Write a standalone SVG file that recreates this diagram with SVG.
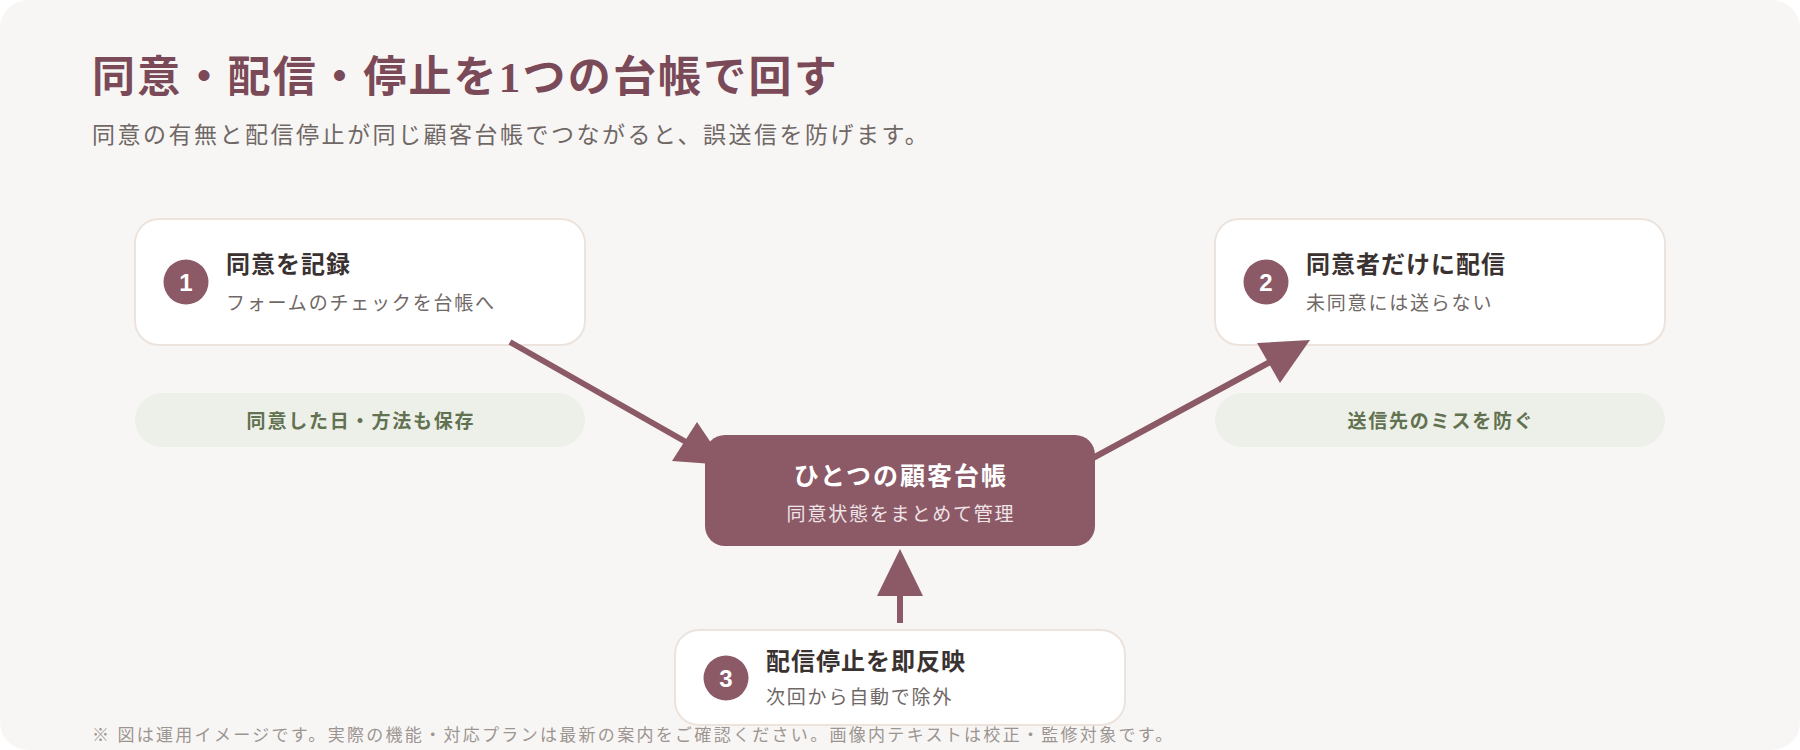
<svg xmlns="http://www.w3.org/2000/svg" width="1800" height="750" viewBox="0 0 1800 750">
  <defs>
    <style>
      .sans { font-family: "Noto Sans CJK JP", "Noto Sans", sans-serif; }
      .title { font-family: "Liberation Serif", "Noto Sans CJK JP", serif; font-size: 43px; font-weight: 700; fill: #7b4a58; letter-spacing: 2.2px; }
      .lead { font-size: 23px; fill: #6f6866; letter-spacing: 2.5px; }
      .card { fill: #ffffff; stroke: #ece3dd; stroke-width: 2; }
      .badge { fill: #8c5a67; }
      .badge-num { font-family: "Liberation Sans", Arial, sans-serif; font-size: 24px; font-weight: 700; fill: #ffffff; text-anchor: middle; }
      .ntitle { font-size: 24px; font-weight: 700; fill: #3a3230; letter-spacing: 1px; }
      .nsub { font-size: 19px; fill: #6f6866; letter-spacing: 1.8px; }
      .pill { fill: #edf0e9; }
      .ptext { font-size: 19px; font-weight: 700; fill: #62714f; letter-spacing: 1.8px; text-anchor: middle; }
      .hub { fill: #8c5a67; }
      .htitle { font-size: 25px; font-weight: 700; fill: #ffffff; letter-spacing: 2px; text-anchor: middle; }
      .hsub { font-size: 19px; fill: #efe4e7; letter-spacing: 1.8px; text-anchor: middle; }
      .foot { font-size: 17px; fill: #9c9592; letter-spacing: 2.3px; }
      .conn { stroke: #8c5a67; stroke-width: 6; fill: none; }
      .head { fill: #8c5a67; }
    </style>
  </defs>

  <rect x="0" y="0" width="1800" height="750" fill="#ffffff"/>
  <rect x="0" y="0" width="1800" height="750" rx="28" ry="28" fill="#f8f6f4"/>

  <g id="header">
    <text class="title" x="92" y="92">同意・配信・停止を1つの台帳で回す</text>
    <text class="sans lead" x="92" y="143">同意の有無と配信停止が同じ顧客台帳でつながると、誤送信を防げます。</text>
  </g>

  <g id="node-1">
    <rect class="card" x="135" y="219" width="450" height="126" rx="24" ry="24"/>
    <circle class="badge" cx="186" cy="282" r="22.5"/>
    <text class="badge-num" x="186" y="291">1</text>
    <text class="sans ntitle" x="226" y="273">同意を記録</text>
    <text class="sans nsub" x="226" y="310">フォームのチェックを台帳へ</text>
  </g>

  <g id="note-1">
    <rect class="pill" x="135" y="393" width="450" height="54" rx="27" ry="27"/>
    <text class="sans ptext" x="361" y="428">同意した日・方法も保存</text>
  </g>

  <g id="node-2">
    <rect class="card" x="1215" y="219" width="450" height="126" rx="24" ry="24"/>
    <circle class="badge" cx="1266" cy="282" r="22.5"/>
    <text class="badge-num" x="1266" y="291">2</text>
    <text class="sans ntitle" x="1306" y="273">同意者だけに配信</text>
    <text class="sans nsub" x="1306" y="310">未同意には送らない</text>
  </g>

  <g id="note-2">
    <rect class="pill" x="1215" y="393" width="450" height="54" rx="27" ry="27"/>
    <text class="sans ptext" x="1441" y="428">送信先のミスを防ぐ</text>
  </g>

  <g id="node-3">
    <rect class="card" x="675" y="630" width="450" height="95" rx="24" ry="24"/>
    <circle class="badge" cx="726" cy="678" r="22.5"/>
    <text class="badge-num" x="726" y="687">3</text>
    <text class="sans ntitle" x="766" y="670">配信停止を即反映</text>
    <text class="sans nsub" x="766" y="704">次回から自動で除外</text>
  </g>

  <g id="connectors">
    <line class="conn" x1="510" y1="342" x2="686" y2="442"/>
    <polygon class="head" points="697,422 672,461 726,465"/>
    <line class="conn" x1="1080" y1="465" x2="1270" y2="362"/>
    <polygon class="head" points="1257,343 1280,383 1310,340"/>
    <line class="conn" x1="900" y1="623" x2="900" y2="594"/>
    <polygon class="head" points="877,596 923,596 900,549"/>
  </g>

  <g id="hub">
    <rect class="hub" x="705" y="435" width="390" height="111" rx="20" ry="20"/>
    <text class="sans htitle" x="901" y="485">ひとつの顧客台帳</text>
    <text class="sans hsub" x="901" y="521">同意状態をまとめて管理</text>
  </g>

  <g id="footer">
    <text class="sans foot" x="92" y="741">※ 図は運用イメージです。実際の機能・対応プランは最新の案内をご確認ください。画像内テキストは校正・監修対象です。</text>
  </g>
</svg>
